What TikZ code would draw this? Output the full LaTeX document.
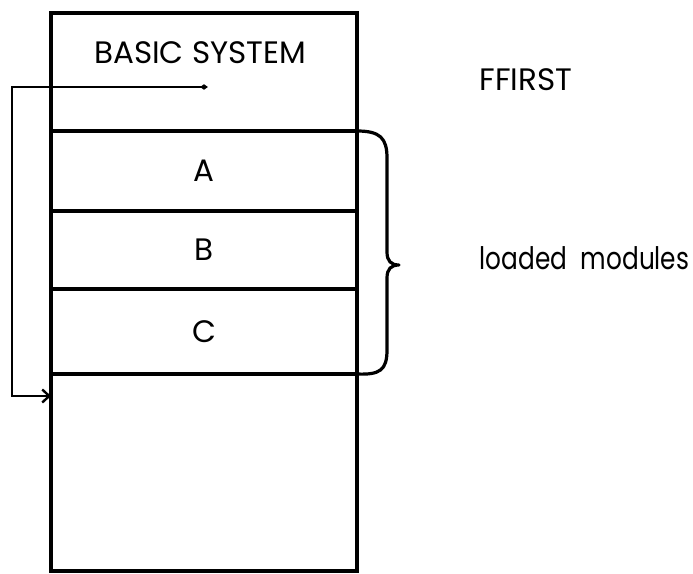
\documentclass[tikz,border=0pt]{standalone}
\usepackage{fontspec}
\setmainfont{Poppins}
\usetikzlibrary{arrows.meta}

\begin{document}
\begin{tikzpicture}[x=1pt,y=-1pt,
  seg/.style={draw, line width=3.2pt, minimum width=306pt, inner sep=0pt,
              outer sep=0pt, anchor=north west},
  lbl/.style={font=\fontsize{31}{36}\selectfont},
  link/.style={line width=2.4pt, arrows={Circle[length=6pt,width=5pt]-Straight Barb[length=7pt,width=13pt,line width=2.4pt]}},
  bracket/.style={line width=3.2pt, line cap=round, line join=round}]
\useasboundingbox (0,0) rectangle (693,573);

% memory layout, top to bottom
\node[seg, minimum height=118pt] (basic) at (51,13) {};
\node[seg, minimum height=80pt]  (modA)  at (51,131) {};
\node[seg, minimum height=78pt]  (modB)  at (51,211) {};
\node[seg, minimum height=85pt]  (modC)  at (51,289) {};
\node[seg, minimum height=197pt] (free)  at (51,374) {};

\node[lbl] (basictxt) at (200,53) {BASIC SYSTEM};
\node[lbl] (atxt) at (modA.center) {A};
\node[lbl] (btxt) at (modB.center) {B};
\node[lbl] (ctxt) at (modC.center) {C};

\node[lbl, anchor=west] (ffirst) at (476,80) {FFIRST};
\node[lbl, anchor=west] (loaded) at (476,258) {\scalebox{0.8}[1]{loaded\hspace{0.55em}modules}};

% pointer to the first free word
\coordinate (ptr) at (207,87);
\draw[link] (ptr) -- (12,87) |- ([yshift=-22pt]free.north west);

% brace over the loaded modules
\draw[bracket] (modA.north east) .. controls (380,131) and (387,138) .. (387,158)
  -- (387,252) .. controls (387,261) and (391,265) .. (399,265)
  .. controls (391,265) and (387,269) .. (387,278)
  -- (387,350) .. controls (387,370) and (380,375) .. (modC.south east);
\end{tikzpicture}
\end{document}
